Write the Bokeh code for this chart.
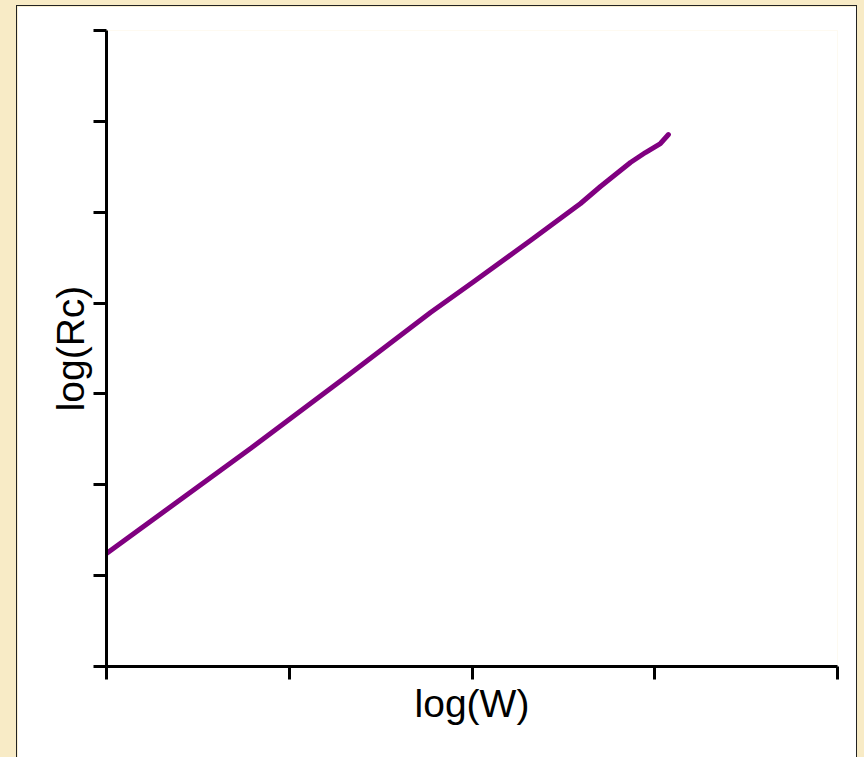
from bokeh.plotting import figure
from bokeh.layouts import column
from bokeh.models import Range1d, FixedTicker, CustomJSTickFormatter
from bokeh.embed import file_html
from bokeh.resources import INLINE

# data
log_w = [0.0, 0.788, 1.335, 1.773, 2.003, 2.320, 2.594, 2.703, 2.867, 2.949, 3.031, 3.075]
log_rc = [1.244, 2.399, 3.225, 3.896, 4.226, 4.689, 5.096, 5.283, 5.547, 5.657, 5.756, 5.855]
x_ticks = [0, 1, 2, 3, 4]
y_ticks = [0, 1, 2, 3, 4, 5, 6, 7]

p = figure(width=839, height=751, output_backend="svg", toolbar_location=None,
           x_range=Range1d(0, 4), y_range=Range1d(0, 7),
           min_border_left=89, min_border_right=19, min_border_top=24, min_border_bottom=91)
p.margin = (6, 8, 0, 17)
p.styles = {"outline": "1px solid #222"}
p.background_fill_color = "white"
p.border_fill_color = "white"
p.outline_line_color = None
p.grid.visible = False

p.line(log_w, log_rc, line_color="#800080", line_width=5, line_cap="round", line_join="round")

blank = CustomJSTickFormatter(code="return '';")
for ax in (p.xaxis[0], p.yaxis[0]):
    ax.axis_line_width = 3
    ax.major_tick_line_width = 3
    ax.major_tick_out = 13
    ax.major_tick_in = 0
    ax.minor_tick_line_color = None
    ax.formatter = blank
    ax.major_label_standoff = 0
    ax.axis_label_text_font = "Liberation Sans"
    ax.axis_label_text_font_style = "normal"
    ax.axis_label_text_font_size = "39px"
    ax.axis_label_text_color = "black"
    ax.axis_line_color = "black"
    ax.major_tick_line_color = "black"

p.xaxis.ticker = FixedTicker(ticks=x_ticks)
p.yaxis.ticker = FixedTicker(ticks=y_ticks)
p.xaxis.axis_label = "log(W)"
p.yaxis.axis_label = "log(Rc)"
p.xaxis.axis_label_standoff = 2
p.yaxis.axis_label_standoff = 2

layout = column(p, styles={"background-color": "#F8EBC6"}, width=864, height=757)

open("out.html", "w").write(file_html(layout, INLINE))
